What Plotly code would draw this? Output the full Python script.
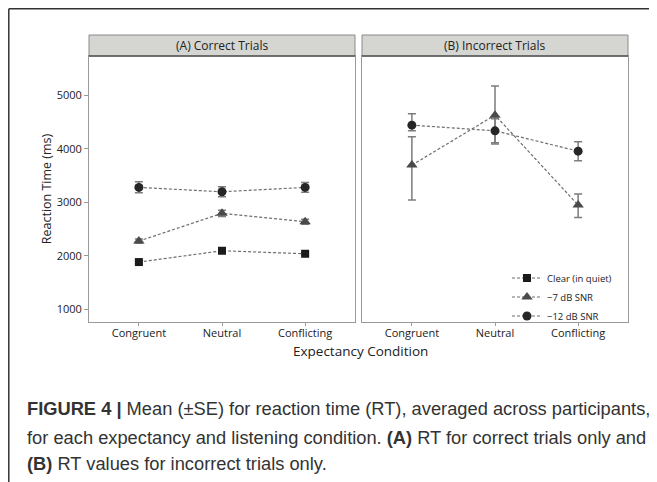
import plotly.graph_objects as go

# ---------------- data ----------------
categories = ["Congruent", "Neutral", "Conflicting"]
series_names = ["Clear (in quiet)", "\u22127 dB SNR", "\u221212 dB SNR"]

# (A) Correct trials: mean, +SE, -SE
a_clear = [1886, 2097, 2041]
a_clear_up = [30, 35, 30]
a_clear_dn = [30, 35, 30]
a_7db = [2278, 2795, 2638]
a_7db_up = [40, 60, 45]
a_7db_dn = [40, 60, 45]
a_12db = [3280, 3198, 3280]
a_12db_up = [104, 93, 93]
a_12db_dn = [101, 94, 93]

# (B) Incorrect trials
b_7db = [3696, 4629, 2950]
b_7db_up = [528, 546, 205]
b_7db_dn = [653, 541, 230]
b_12db = [4442, 4336, 3957]
b_12db_up = [211, 224, 174]
b_12db_dn = [106, 224, 181]

y_ticks = [1000, 2000, 3000, 4000, 5000]
panel_titles = ["(A) Correct Trials", "(B) Incorrect Trials"]
x_title = "Expectancy Condition"
y_title = "Reaction Time (ms)"
caption_lines = [
    "<b>FIGURE 4 |</b> Mean (\u00b1SE) for reaction time (RT), averaged across participants,",
    "for each expectancy and listening condition. <b>(A)</b> RT for correct trials only and",
    "<b>(B)</b> RT values for incorrect trials only.",
]

# ---------------- layout helpers ----------------
# the page body has an 8px margin, so the figure starts at (8, 8) of the window
OFF = 8
W, H = 657 - OFF, 482 - OFF
def px(x):
    return (x - OFF) / W
def py(y):
    return 1 - (y - OFF) / H

A_dom = [px(89), px(355)]
B_dom = [px(362), px(628)]
Y_dom = [py(322), py(56)]

FONT = "Open Sans"
line_col = "#6e6e6e"
err_col = "#7c7c7c"

styles = {
    "clear": dict(symbol="square", size=8, color="#1b1b1b"),
    "7db": dict(symbol="triangle-up", size=10, color="#4b4b4b"),
    "12db": dict(symbol="circle", size=9, color="#262626"),
}

fig = go.Figure()

def add(y, up, dn, key, name, xa, ya, show):
    st = styles[key]
    fig.add_trace(go.Scatter(
        x=categories, y=y, name=name, mode="lines+markers",
        xaxis=xa, yaxis=ya, showlegend=show, legendgroup=key,
        line=dict(color=line_col, width=1.2, dash="3px,2px"),
        marker=dict(symbol=st["symbol"], size=st["size"], color=st["color"],
                    line=dict(width=0)),
        error_y=dict(type="data", symmetric=False, array=up, arrayminus=dn,
                     color=err_col, thickness=1.5, width=4),
    ))

add(a_12db, a_12db_up, a_12db_dn, "12db", series_names[2], "x", "y", False)
add(a_7db, a_7db_up, a_7db_dn, "7db", series_names[1], "x", "y", False)
add(a_clear, a_clear_up, a_clear_dn, "clear", series_names[0], "x", "y", False)

# legend-only entry for the clear condition (panel B has no clear data)
fig.add_trace(go.Scatter(
    x=[None], y=[None], name=series_names[0], mode="lines+markers",
    xaxis="x2", yaxis="y2", legendgroup="clear",
    line=dict(color=line_col, width=1.2, dash="3px,2px"),
    marker=dict(symbol="square", size=8, color="#1b1b1b"),
))
add(b_7db, b_7db_up, b_7db_dn, "7db", series_names[1], "x2", "y2", True)
add(b_12db, b_12db_up, b_12db_dn, "12db", series_names[2], "x2", "y2", True)

xcommon = dict(
    type="category", range=[-0.6, 2.6], showline=True, mirror=True,
    linecolor="#9a9a9a", linewidth=1, showgrid=False, zeroline=False,
    ticks="outside", ticklen=3, tickcolor="#9a9a9a", tickwidth=1,
    ticklabelstandoff=-2,
    tickfont=dict(family=FONT, size=11, color="#222"),
    categoryorder="array", categoryarray=categories,
)
ycommon = dict(
    range=[767, 5733], showline=True, mirror=True, linecolor="#9a9a9a",
    linewidth=1, showgrid=False, zeroline=False, domain=Y_dom,
)

fig.update_layout(
    width=W, height=H, margin=dict(l=0, r=0, t=0, b=0),
    paper_bgcolor="white", plot_bgcolor="white",
    xaxis=dict(domain=A_dom, anchor="y", **xcommon),
    xaxis2=dict(domain=B_dom, anchor="y2", **xcommon),
    yaxis=dict(anchor="x", tickvals=y_ticks, ticks="outside", ticklen=4,
               tickcolor="#9a9a9a", tickfont=dict(family=FONT, size=11, color="#222"),
               title=dict(text=y_title, font=dict(family=FONT, size=12.5, color="#222"),
                          standoff=2),
               **ycommon),
    yaxis2=dict(anchor="x2", matches="y", showticklabels=False, ticks="", **ycommon),
    legend=dict(x=px(617), y=py(297), xanchor="right", yanchor="middle",
                bgcolor="rgba(0,0,0,0)", font=dict(family=FONT, size=9.5, color="#222"),
                tracegroupgap=0, itemwidth=30, traceorder="normal"),
    showlegend=True,
)

shapes = []
annotations = []
# strip headers
for dom, title in zip([A_dom, B_dom], panel_titles):
    shapes.append(dict(type="rect", xref="paper", yref="paper",
                       x0=dom[0], x1=dom[1], y0=py(56), y1=py(35),
                       fillcolor="#d5d5d1", line=dict(color="#8a8a8a", width=1)))
    shapes.append(dict(type="line", xref="paper", yref="paper",
                       x0=dom[0], x1=dom[1], y0=py(56), y1=py(56),
                       line=dict(color="#555", width=1.5)))
    annotations.append(dict(text=title, xref="paper", yref="paper",
                            x=(dom[0] + dom[1]) / 2, y=py(45.5), showarrow=False,
                            xanchor="center", yanchor="middle",
                            font=dict(family=FONT, size=12, color="#222")))
# outer frame
shapes.append(dict(type="line", xref="paper", yref="paper", x0=px(8.8), x1=px(8.8),
                   y0=0, y1=py(8.8), line=dict(color="#333", width=1.5)))
shapes.append(dict(type="line", xref="paper", yref="paper", x0=px(8.8), x1=1.0,
                   y0=py(8.8), y1=py(8.8), line=dict(color="#333", width=1.5)))

# x-axis title
annotations.append(dict(text=x_title, xref="paper", yref="paper",
                        x=px(360), y=py(351), showarrow=False,
                        xanchor="center", yanchor="middle",
                        font=dict(family=FONT, size=13.5, color="#222")))
# caption
for i, (txt, yy) in enumerate(zip(caption_lines, [408, 437, 463])):
    annotations.append(dict(text=txt, xref="paper", yref="paper",
                            x=px(25), y=py(yy), showarrow=False,
                            xanchor="left", yanchor="middle", align="left",
                            font=dict(family="Liberation Sans", size=18.3, color="#333")))

fig.update_layout(shapes=shapes, annotations=annotations)
fig.write_html("out.html")
